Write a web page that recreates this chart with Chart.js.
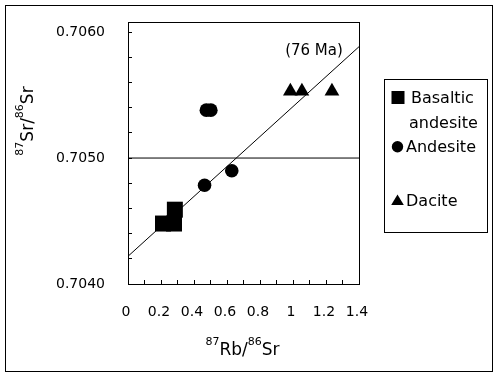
<!DOCTYPE html>
<html><head><meta charset="utf-8">
<script src="https://cdn.jsdelivr.net/npm/chart.js@4.4.1/dist/chart.umd.min.js"></script>
<style>html,body{margin:0;padding:0;background:#fff;overflow:hidden}canvas{display:block}</style>
</head><body>
<canvas id="c" width="499" height="377"></canvas>
<script>
// ---- data ----
const basalticX = [0.212, 0.279, 0.284];
const basalticY = [0.70448, 0.70448, 0.70459];
const andesiteX = [0.475, 0.502, 0.464, 0.629];
const andesiteY = [0.70538, 0.70538, 0.704784, 0.704899];
const daciteX = [0.984, 1.054, 1.236];
const daciteY = [0.70553, 0.70553, 0.70553];
const isochronX = [0, 1.4];
const isochronY = [0.70422, 0.705884];
const refLineX = [0, 1.4];
const refLineY = [0.7050, 0.7050];
const xTickValues = [0, 0.1, 0.2, 0.3, 0.4, 0.5, 0.6, 0.7, 0.8, 0.9, 1.0, 1.1, 1.2, 1.3, 1.4];
const xTickLabels = ['0', '0.2', '0.4', '0.6', '0.8', '1', '1.2', '1.4'];
const yTickValues = [0.7040, 0.7042, 0.7044, 0.7046, 0.7048, 0.7050, 0.7052, 0.7054, 0.7056, 0.7058, 0.7060];
const yTickLabels = ['0.7040', '0.7050', '0.7060'];
const seriesNames = ['Basaltic andesite', 'Andesite', 'Dacite'];
const ageLabel = '(76 Ma)';
const xTitleParts = [['87', true], ['Rb/', false], ['86', true], ['Sr', false]];
const yTitleParts = [['87', true], ['Sr/', false], ['86', true], ['Sr', false]];

const FONT = 'DejaVu Sans';
const pts = (xs, ys) => xs.map((x, i) => ({x: x, y: ys[i]}));

function drawParts(ctx, parts, cx, baseY) {
  const big = '17px "' + FONT + '"', small = '11px "' + FONT + '"';
  let total = 0;
  parts.forEach(p => { ctx.font = p[1] ? small : big; total += ctx.measureText(p[0]).width; });
  let x = cx - total / 2;
  ctx.textAlign = 'left'; ctx.textBaseline = 'alphabetic';
  parts.forEach(p => {
    ctx.font = p[1] ? small : big;
    ctx.fillText(p[0], x, p[1] ? baseY - 10 : baseY);
    x += ctx.measureText(p[0]).width;
  });
}

function zeroPad(s) { s.paddingTop = 0; s.paddingBottom = 0; s.paddingLeft = 0; s.paddingRight = 0; }

const decor = {
  id: 'decor',
  beforeDraw(chart) {
    const ctx = chart.ctx;
    ctx.save(); ctx.fillStyle = '#fff'; ctx.fillRect(0, 0, chart.width, chart.height); ctx.restore();
  },
  afterDraw(chart) {
    const ctx = chart.ctx, ca = chart.chartArea;
    ctx.save();
    ctx.strokeStyle = '#000'; ctx.fillStyle = '#000'; ctx.lineWidth = 1;
    ctx.strokeRect(Math.round(ca.left) + 0.5, Math.round(ca.top) + 0.5,
                   Math.round(ca.right - ca.left), Math.round(ca.bottom - ca.top));
    ctx.strokeRect(5.5, 5.5, 487, 366);
    // axis titles
    drawParts(ctx, xTitleParts, (ca.left + ca.right) / 2 - 1, 355);
    ctx.save(); ctx.translate(33, 121); ctx.rotate(-Math.PI / 2);
    drawParts(ctx, yTitleParts, 0, 0);
    ctx.restore();
    // age annotation
    ctx.font = '15px "' + FONT + '"'; ctx.textAlign = 'center'; ctx.textBaseline = 'alphabetic';
    ctx.fillText(ageLabel, 314, 55);
    // legend
    ctx.strokeRect(384.5, 79.5, 103, 153);
    ctx.fillRect(391.5, 91, 13, 13);
    ctx.beginPath(); ctx.arc(397.5, 146.7, 5.7, 0, Math.PI * 2); ctx.fill();
    ctx.beginPath(); ctx.moveTo(397.5, 194.5); ctx.lineTo(403.8, 205); ctx.lineTo(391.2, 205); ctx.closePath(); ctx.fill();
    ctx.font = '16px "' + FONT + '"'; ctx.textAlign = 'left';
    const w = seriesNames[0].split(' ');
    ctx.fillText(w[0], 411, 103);
    ctx.fillText(w[1], 409, 128);
    ctx.fillText(seriesNames[1], 406, 152);
    ctx.fillText(seriesNames[2], 406, 205.5);
    ctx.restore();
  }
};

new Chart(document.getElementById('c'), {
  type: 'scatter',
  data: {
    datasets: [
      {label: seriesNames[0], data: pts(basalticX, basalticY), pointStyle: 'rect', pointRadius: 11.3,
       backgroundColor: '#000', borderColor: '#000', borderWidth: 0, order: 0},
      {label: seriesNames[1], data: pts(andesiteX, andesiteY), pointStyle: 'circle', pointRadius: 6.8,
       backgroundColor: '#000', borderColor: '#000', borderWidth: 0, order: 0},
      {label: seriesNames[2], data: pts(daciteX, daciteY), pointStyle: 'triangle', pointRadius: 8.5,
       backgroundColor: '#000', borderColor: '#000', borderWidth: 0, order: 0},
      {label: 'isochron', data: pts(isochronX, isochronY), showLine: true, pointRadius: 0,
       borderColor: '#000', borderWidth: 1, order: 5},
      {label: 'ref', data: pts(refLineX, refLineY), showLine: true, pointRadius: 0,
       borderColor: '#000', borderWidth: 1, order: 5}
    ]
  },
  options: {
    responsive: false, animation: false, devicePixelRatio: 1,
    layout: {padding: {left: 0, top: 22, right: 140, bottom: 0}},
    plugins: {legend: {display: false}, tooltip: {enabled: false}},
    scales: {
      x: {
        type: 'linear', min: 0, max: 1.4, position: 'bottom',
        afterFit(s) { s.height = 93; zeroPad(s); },
        afterBuildTicks(s) { s.ticks = xTickValues.map(v => ({value: v})); },
        ticks: {
          autoSkip: false, maxRotation: 0, padding: 24, labelOffset: -2, color: '#000',
          font: {family: FONT, size: 14},
          callback(v) { const s = String(+Number(v).toFixed(1)); return xTickLabels.includes(s) ? s : ''; }
        },
        grid: {drawOnChartArea: false, drawTicks: true, tickLength: -4, color: '#000', lineWidth: 1},
        border: {display: true, color: '#000', width: 1}
      },
      y: {
        type: 'linear', min: 0.7040, max: 0.70608, position: 'left',
        afterFit(s) { s.width = 128; zeroPad(s); },
        afterBuildTicks(s) { s.ticks = yTickValues.map(v => ({value: v})); },
        ticks: {
          autoSkip: false, padding: 27, color: '#000',
          font: {family: FONT, size: 14},
          callback(v) { const s = Number(v).toFixed(4); return yTickLabels.includes(s) ? s : ''; }
        },
        grid: {drawOnChartArea: false, drawTicks: true, tickLength: -4, color: '#000', lineWidth: 1},
        border: {display: true, color: '#000', width: 1}
      }
    }
  },
  plugins: [decor]
});
</script>
</body></html>
